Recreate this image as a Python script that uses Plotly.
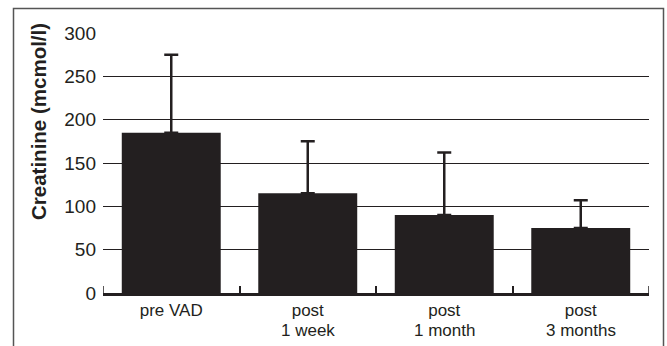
import plotly.graph_objects as go

categories = ["pre VAD", "post 1 week", "post 1 month", "post 3 months"]
label_line1 = ["pre VAD", "post", "post", "post"]
label_line2 = ["", "1 week", "1 month", "3 months"]
means = [185, 115, 90, 75]
sd_upper = [90, 60, 72, 32]
y_ticks = [0, 50, 100, 150, 200, 250, 300]

W, H = 667, 346
L, R, T, B = 103, 18, 33, 53
pw, ph = W - L - R, H - T - B
INK = "#231f20"
FONT = "Liberation Sans, Arial, sans-serif"

def px_x(x):
    return (x - L) / pw

def px_y(y):
    return (H - B - y) / ph

fig = go.Figure()
fig.add_trace(go.Bar(
    x=categories, y=means,
    marker=dict(color=INK, line=dict(width=0)),
    error_y=dict(type="data", array=sd_upper, arrayminus=[0] * len(means),
                 symmetric=False, color=INK, thickness=2.5, width=7),
    width=0.725,
))

annotations = [dict(
    text="<b>Creatinine (mcmol/l)</b>", textangle=-90,
    x=px_x(38), y=px_y(122), xref="paper", yref="paper",
    showarrow=False, font=dict(size=20.5, color=INK, family=FONT),
    xanchor="center", yanchor="middle",
)]
for cat, l2 in zip(categories, label_line2):
    if l2:
        annotations.append(dict(
            text=l2, x=cat, xref="x", y=px_y(330), yref="paper",
            showarrow=False, font=dict(size=17, color=INK, family=FONT),
            xanchor="center", yanchor="middle",
        ))

shapes = [dict(
    type="rect", xref="paper", yref="paper",
    x0=px_x(13.5), x1=px_x(663.5), y0=px_y(360), y1=px_y(8.5),
    line=dict(color="#555555", width=1.5), fillcolor="rgba(0,0,0,0)", layer="above",
)]
# end ticks at the outer category boundaries
for edge in (-0.5, len(categories) - 0.5):
    shapes.append(dict(
        type="line", xref="x", yref="paper", x0=edge, x1=edge,
        y0=0, y1=7 / ph, line=dict(color=INK, width=1.5),
    ))

fig.update_layout(
    width=W, height=H,
    margin=dict(l=L, r=R, t=T, b=B, autoexpand=False),
    paper_bgcolor="white", plot_bgcolor="white",
    showlegend=False,
    font=dict(family=FONT, color=INK),
    xaxis=dict(
        type="category", tickson="boundaries", ticks="inside", ticklen=7,
        tickwidth=1.5, tickcolor=INK, automargin=False,
        tickmode="array", tickvals=categories, ticktext=label_line1,
        showline=True, linecolor=INK, linewidth=2.5,
        showgrid=False, tickfont=dict(size=17), range=[-0.5, 3.5],
    ),
    yaxis=dict(
        range=[0, 300], tickvals=y_ticks, showgrid=True, gridcolor=INK,
        gridwidth=1, zeroline=False, showline=False, ticks="", automargin=False,
        tickfont=dict(size=19), ticklabelstandoff=6,
    ),
    annotations=annotations,
    shapes=shapes,
)

fig.write_html("out.html", config={"displayModeBar": False},
               post_script="document.body.style.margin='0px';")
